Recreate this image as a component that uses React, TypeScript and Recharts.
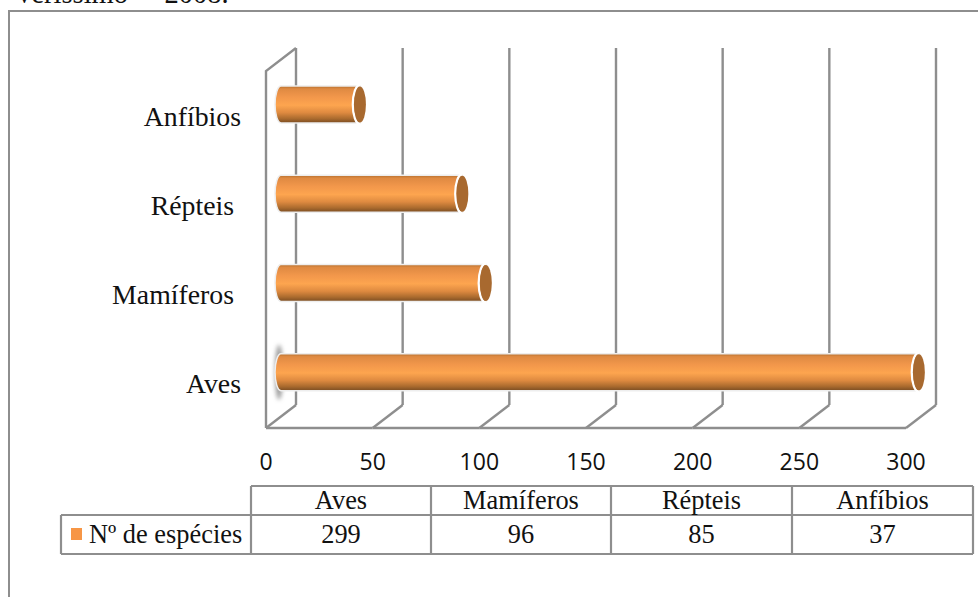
import { BarChart, Bar, XAxis, YAxis, CartesianGrid } from 'recharts';

const categories = ['Aves', 'Mamíferos', 'Répteis', 'Anfíbios'];
const axisLabels = ['Aves', 'Mamíferos ', 'Répteis ', 'Anfíbios'];
const especies = [299, 96, 85, 37];
const xTicks = [0, 50, 100, 150, 200, 250, 300];
const seriesName = 'Nº de espécies';

const chartData = categories.map((name, i) => ({ name: axisLabels[i], value: especies[i] }));

const SERIF = '"Liberation Serif", "Times New Roman", serif';
const SANS = '"Open Sans", "Noto Sans", sans-serif';
const LINE = '#8e8e8e';
const GRID_WIDTH = 2.4;

const PLOT_TOP = 48;
const PLOT_BOTTOM = 405;
// offset of the front plane from the back wall of the 3d box
const DEPTH_X = 30;
const DEPTH_Y = 23;
const TICK_STEP = 640 / 6;

const tableCols = [251, 431, 611, 792, 973];
const tableRows = [486, 515, 554];
const tableLeft = 61;

function XTick({ x, payload }: any) {
  const fx = x - DEPTH_X;
  const fy = PLOT_BOTTOM + DEPTH_Y;
  return (
    <g>
      <line x1={x} y1={PLOT_BOTTOM} x2={fx} y2={fy} stroke={LINE} strokeWidth={GRID_WIDTH} />
      {payload.value === 0 && (
        <polyline
          points={`${fx},${fy} ${fx},${PLOT_TOP + DEPTH_Y} ${x},${PLOT_TOP}`}
          fill="none"
          stroke={LINE}
          strokeWidth={GRID_WIDTH}
        />
      )}
      {payload.value < 300 && (
        <line x1={fx} y1={fy} x2={fx + TICK_STEP} y2={fy} stroke={LINE} strokeWidth={GRID_WIDTH} />
      )}
      <text x={fx} y={470} textAnchor="middle" fontFamily={SANS} fontSize={23} fill="#111">
        {payload.value}
      </text>
    </g>
  );
}

function YTick({ y, payload }: any) {
  return (
    <text
      x={241}
      y={y + 24}
      dy={9}
      textAnchor="end"
      fontFamily={SERIF}
      fontSize={27.8}
      fill="#111"
      style={{ whiteSpace: 'pre' }}
    >
      {payload.value}
    </text>
  );
}

// horizontal cylinder: rounded base on the left, open cap at the value end
function Cylinder({ x, y, width, height, index }: any) {
  const left = x - 15;
  const top = y + 12;
  const right = left + width;
  const ry = height / 2;
  const body = `M${left},${top} L${right},${top} L${right},${top + height} L${left},${top + height} A6,${ry} 0 0 1 ${left},${top} Z`;
  return (
    <g>
      {index === 0 && (
        <ellipse cx={left - 2} cy={top + ry} rx={4} ry={ry + 9} fill="#9a9a9a" filter="url(#baseShadow)" />
      )}
      <path d={body} fill="url(#cylinderFill)" stroke="#eeeeee" strokeWidth={1.5} />
      <path
        d={`M${right},${top - 1} A7,${ry + 1} 0 0 0 ${right},${top + height + 1}`}
        fill="none"
        stroke="#ffffff"
        strokeWidth={2.5}
      />
      <ellipse cx={right} cy={top + ry} rx={6} ry={ry - 0.5} fill="#a8692f" />
    </g>
  );
}

function DataTable() {
  const [y0, y1, y2] = tableRows;
  const x0 = tableCols[0];
  const xEnd = tableCols[tableCols.length - 1];
  const rules = { stroke: LINE, strokeWidth: 2.2 };
  return (
    <g fontFamily={SERIF} fontSize={26.4} fill="#111">
      <line x1={x0} y1={y0} x2={xEnd} y2={y0} {...rules} />
      <line x1={tableLeft} y1={y1} x2={xEnd} y2={y1} {...rules} />
      <line x1={tableLeft} y1={y2} x2={xEnd} y2={y2} {...rules} />
      <line x1={tableLeft} y1={y1} x2={tableLeft} y2={y2} {...rules} />
      {tableCols.map((cx) => (
        <line key={cx} x1={cx} y1={y0} x2={cx} y2={y2} {...rules} />
      ))}
      <rect x={71} y={528} width={11} height={12} fill="#f79646" />
      <text x={89} y={543}>
        {seriesName}
      </text>
      {categories.map((name, i) => {
        const mid = (tableCols[i] + tableCols[i + 1]) / 2;
        return (
          <g key={name} textAnchor="middle">
            <text x={mid} y={509}>
              {name}
            </text>
            <text x={mid} y={543}>
              {especies[i]}
            </text>
          </g>
        );
      })}
    </g>
  );
}

export default function App() {
  return (
    <div style={{ position: 'absolute', left: 0, top: 0, width: 978, height: 597, background: '#fff', overflow: 'hidden' }}>
      <div
        style={{
          position: 'absolute',
          left: 14,
          top: -22,
          fontFamily: SERIF,
          fontSize: 28.5,
          lineHeight: '32px',
          wordSpacing: 4,
          color: '#111',
          whiteSpace: 'pre',
        }}
      >
        Veríssimo – 2008.
      </div>
      <div
        style={{
          position: 'absolute',
          left: 8,
          top: 10,
          width: 980,
          height: 600,
          borderTop: `2px solid ${LINE}`,
          borderLeft: `2px solid ${LINE}`,
        }}
      />
      <div style={{ position: 'absolute', left: 0, top: 0 }}>
        <BarChart
          width={978}
          height={597}
          data={chartData}
          layout="vertical"
          margin={{ top: PLOT_TOP, right: 42, bottom: 162, left: 0 }}
          barSize={37}
        >
          <defs>
            <linearGradient id="cylinderFill" x1="0" y1="0" x2="0" y2="1">
              <stop offset="0%" stopColor="#b5702f" />
              <stop offset="8%" stopColor="#df8a42" />
              <stop offset="30%" stopColor="#f2974b" />
              <stop offset="52%" stopColor="#fda54f" />
              <stop offset="72%" stopColor="#de8a40" />
              <stop offset="88%" stopColor="#ab6b2e" />
              <stop offset="100%" stopColor="#7a4c22" />
            </linearGradient>
            <filter id="baseShadow" x="-200%" y="-20%" width="500%" height="140%">
              <feGaussianBlur stdDeviation="2" />
            </filter>
          </defs>
          <CartesianGrid horizontal={false} stroke={LINE} strokeWidth={GRID_WIDTH} />
          <XAxis
            type="number"
            domain={[0, 300]}
            ticks={xTicks}
            interval={0}
            height={30}
            axisLine={false}
            tickLine={false}
            tick={XTick}
          />
          <YAxis
            type="category"
            dataKey="name"
            reversed
            width={296}
            interval={0}
            axisLine={false}
            tickLine={false}
            tick={YTick}
          />
          <Bar dataKey="value" isAnimationActive={false} shape={Cylinder} />
          <DataTable />
        </BarChart>
      </div>
    </div>
  );
}
